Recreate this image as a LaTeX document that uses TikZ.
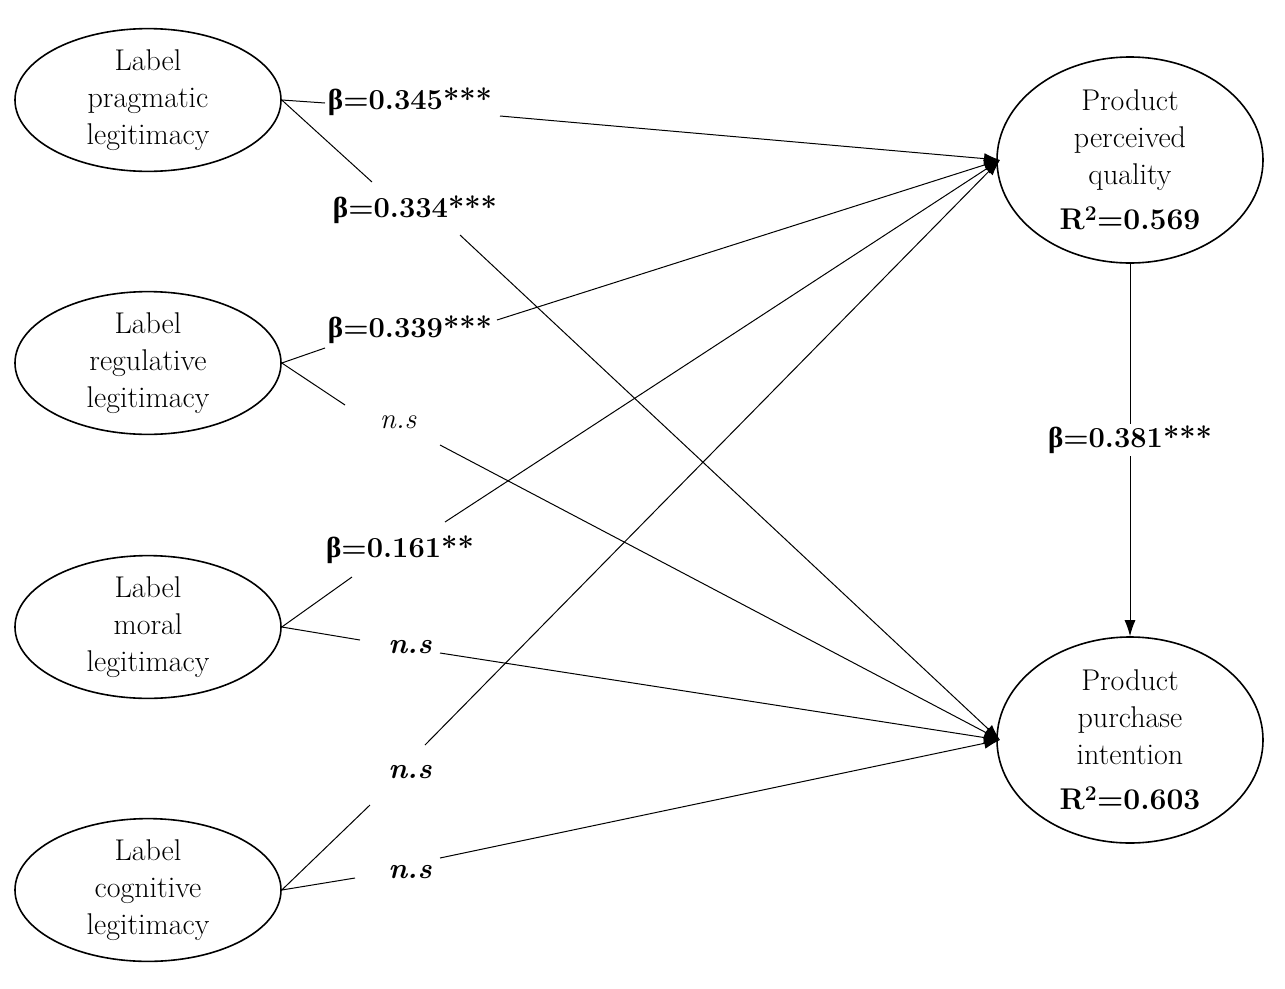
\documentclass[tikz,border=0pt]{standalone}
\usepackage{fontspec}
\newfontfamily\grk{Liberation Serif}
\newcommand{\bb}{{\grk\bfseries β}}
\usetikzlibrary{arrows.meta,shapes.geometric}
\begin{document}
\begin{tikzpicture}[x=1pt,y=-1pt,
  el/.style={draw,line width=1.6pt,ellipse,minimum width=266pt,minimum height=136pt,inner sep=0pt,align=center,font=\fontsize{30}{37}\selectfont},
  er/.style={draw,line width=1.6pt,ellipse,minimum width=266pt,minimum height=206pt,inner sep=0pt,align=center,font=\fontsize{30}{37}\selectfont},
  lb/.style={font=\fontsize{29}{32}\selectfont\bfseries,inner sep=2pt},
  ln/.style={line width=1pt},
  ar/.style={line width=1pt,-{Latex[length=16pt,width=11pt]}}]
\useasboundingbox (0,0) rectangle (1285,988);
\node[el] (a) at (148,100) {Label\\pragmatic\\legitimacy};
\node[el] (b) at (148,363) {Label\\regulative\\legitimacy};
\node[el] (c) at (148,627) {Label\\moral\\legitimacy};
\node[el] (d) at (148,890) {Label\\cognitive\\legitimacy};
\node[er] (q) at (1130,160) {Product\\perceived\\quality\\[8pt]\textbf{R\textsuperscript{2}=0.569}};
\node[er] (p) at (1130,740) {Product\\purchase\\intention\\[8pt]\textbf{R\textsuperscript{2}=0.603}};
\coordinate (qin) at (1000,160);
\coordinate (pin) at (1000,740);
\node[lb] (l1) at (410,102) {\bb=0.345***};
\node[lb] (l2) at (415,210) {\bb=0.334***};
\node[lb] (l3) at (410,330) {\bb=0.339***};
\node[lb] (l4) at (398,422) {\normalfont\itshape n.s};
\node[lb] (l5) at (400,550) {\bb=0.161**};
\node[lb] (l6) at (410,647) {\itshape n.s};
\node[lb] (l7) at (410,772) {\itshape n.s};
\node[lb] (l8) at (410,872) {\itshape n.s};
\node[lb] (l9) at (1130,440) {\bb=0.381***};
\draw[ln] (a.east) -- (325,103); \draw[ar] (500,116) -- (qin);
\draw[ln] (a.east) -- (372,182); \draw[ar] (460,235) -- (pin);
\draw[ln] (b.east) -- (325,348); \draw[ar] (497,320) -- (qin);
\draw[ln] (b.east) -- (345,405); \draw[ar] (440,445) -- (pin);
\draw[ln] (c.east) -- (352,577); \draw[ar] (445,522) -- (qin);
\draw[ln] (c.east) -- (360,640); \draw[ar] (440,653) -- (pin);
\draw[ln] (d.east) -- (370,805); \draw[ar] (425,745) -- (qin);
\draw[ln] (d.east) -- (355,878); \draw[ar] (440,858) -- (pin);
\draw[ln] (q.south) -- (l9.north); \draw[ar] (l9.south) -- (p.north);
\end{tikzpicture}
\end{document}
